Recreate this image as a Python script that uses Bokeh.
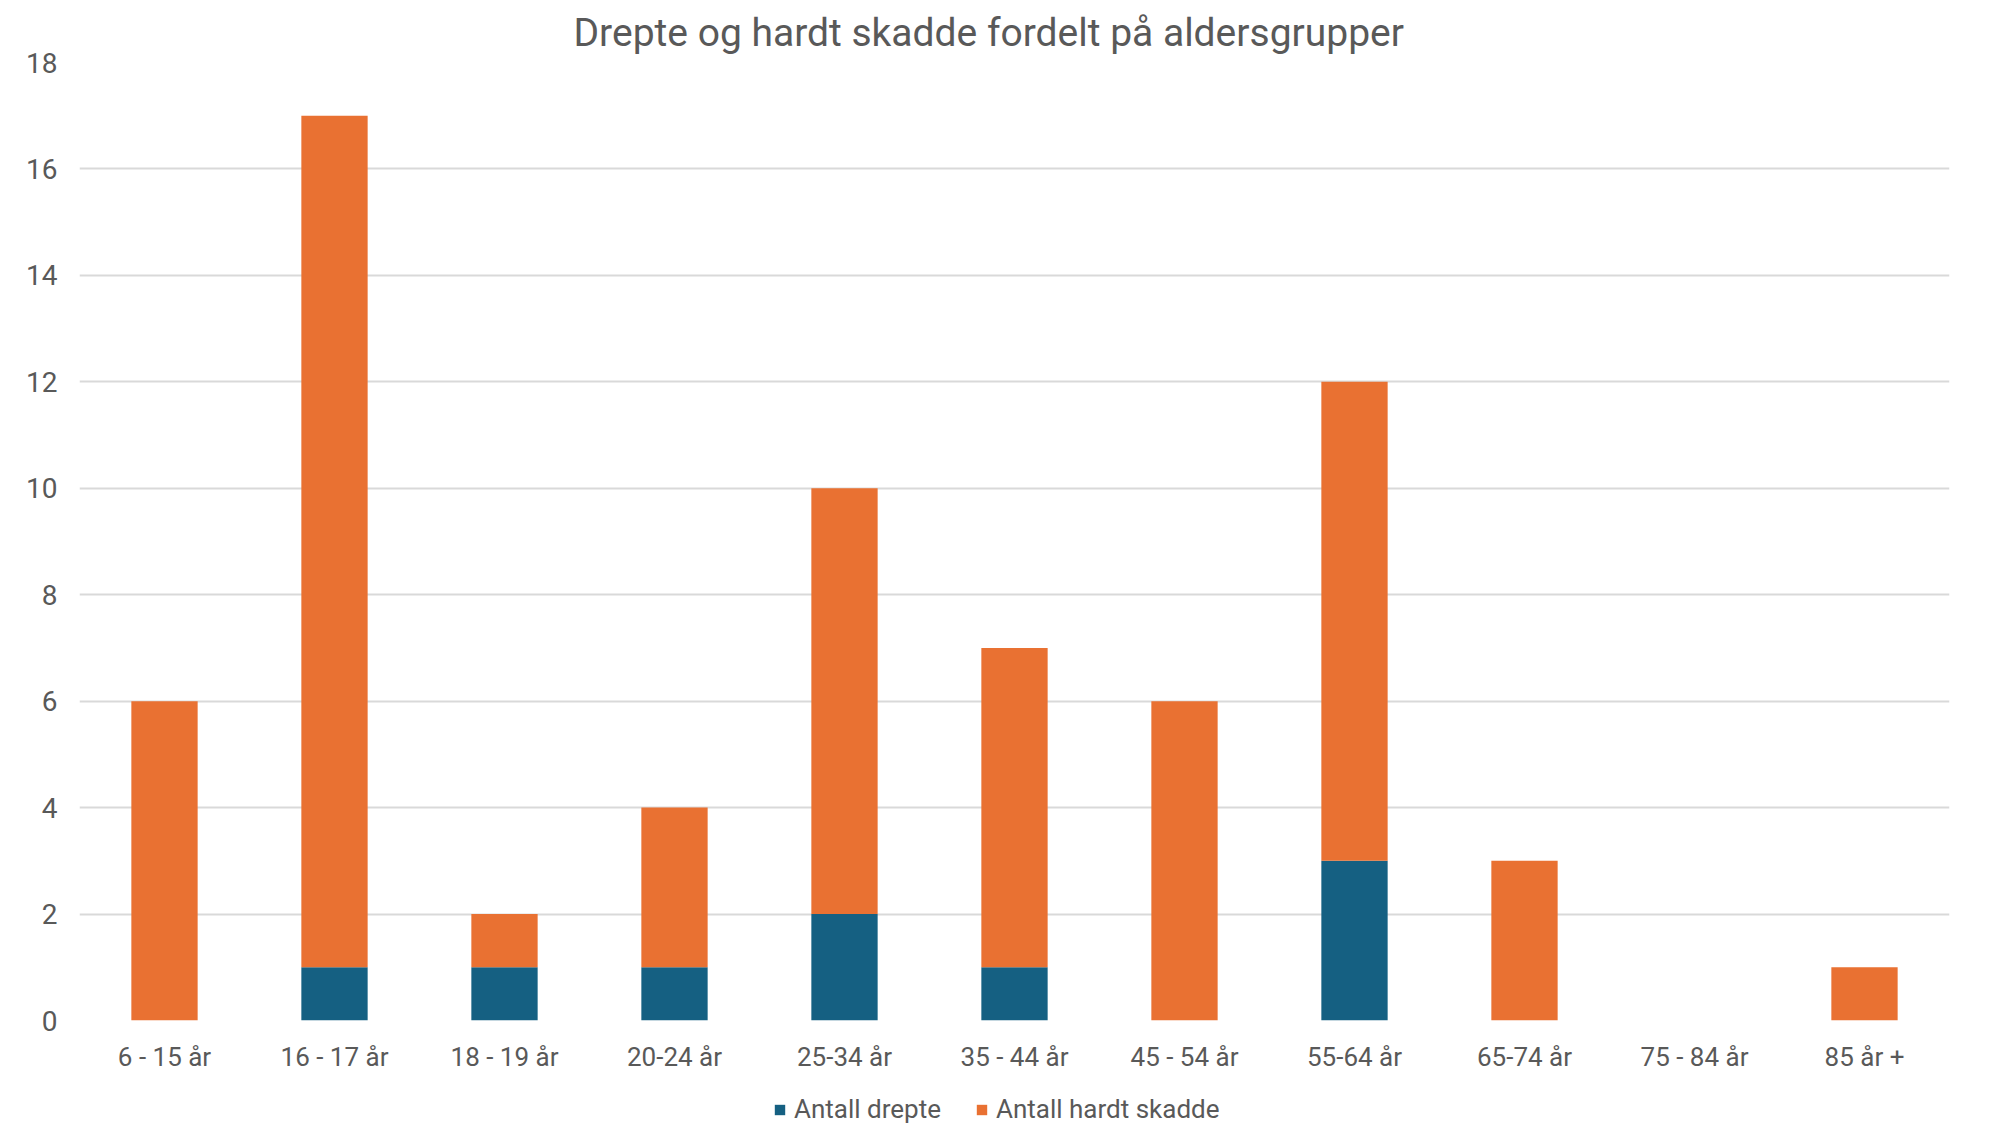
from bokeh.plotting import figure
from bokeh.models import Range1d, FactorRange, Legend, LegendItem, Title
from bokeh.layouts import column
from bokeh.embed import file_html
from bokeh.resources import INLINE

categories = ["6 - 15 år", "16 - 17 år", "18 - 19 år", "20-24 år", "25-34 år",
              "35 - 44 år", "45 - 54 år", "55-64 år", "65-74 år", "75 - 84 år", "85 år +"]
drepte = [0, 1, 1, 1, 2, 1, 0, 3, 0, 0, 0]
hardt_skadde = [6, 16, 1, 3, 8, 6, 6, 9, 3, 0, 1]
series_names = ["Antall drepte", "Antall hardt skadde"]
y_ticks = [0, 2, 4, 6, 8, 10, 12, 14, 16, 18]
title_text = "Drepte og hardt skadde fordelt på aldersgrupper"

FONT = "Roboto"
TXT = "#595959"
BLUE = "#156082"
ORANGE = "#E97132"
COLORS = [BLUE, ORANGE]

data = {"cat": categories, "drepte": drepte, "skadde": hardt_skadde}

# ---------------- main chart ----------------
p = figure(width=2000, height=1080, x_range=FactorRange(*categories, range_padding=0.0),
           y_range=Range1d(0, 18), output_backend="svg", toolbar_location=None,
           min_border_left=79, min_border_right=51, min_border_top=61, min_border_bottom=60)
p.outline_line_color = None
p.background_fill_color = "white"
p.border_fill_color = "white"

p.title = Title(text=title_text, align="left", text_font=FONT, text_font_size="39px",
                text_color=TXT, text_font_style="normal", standoff=14, offset=494)

renderers = p.vbar_stack(["drepte", "skadde"], x="cat", width=0.39, color=COLORS,
                         line_color=None, source=data)

p.xaxis.axis_line_color = None
p.xaxis.major_tick_line_color = None
p.xaxis.minor_tick_line_color = None
p.xaxis.major_tick_out = 0
p.xaxis.major_tick_in = 0
p.xaxis.major_label_text_font = FONT
p.xaxis.major_label_text_font_size = "26px"
p.xaxis.major_label_text_color = TXT
p.xaxis.major_label_standoff = 21

p.yaxis.ticker = y_ticks
p.yaxis.axis_line_color = None
p.yaxis.major_tick_line_color = None
p.yaxis.minor_tick_line_color = None
p.yaxis.major_tick_out = 0
p.yaxis.major_tick_in = 0
p.yaxis.major_label_text_font = FONT
p.yaxis.major_label_text_font_size = "28px"
p.yaxis.major_label_text_color = TXT
p.yaxis.major_label_standoff = 22

p.xgrid.grid_line_color = None
p.ygrid.grid_line_color = "#D9D9D9"
p.ygrid.grid_line_width = 2

# ---------------- legend strip ----------------
lg = figure(width=2000, height=45, x_range=FactorRange(*categories), y_range=Range1d(100, 101),
            output_backend="svg", toolbar_location=None,
            min_border_left=0, min_border_right=0, min_border_top=0, min_border_bottom=0)
lg.axis.visible = False
lg.grid.visible = False
lg.outline_line_color = None
lg.background_fill_color = "white"
lg.border_fill_color = "white"
lg_renderers = lg.vbar_stack(["drepte", "skadde"], x="cat", width=0.39, color=COLORS,
                             line_color=None, source=data)

legend = Legend(items=[LegendItem(label=series_names[0], renderers=[lg_renderers[0]]),
                       LegendItem(label=series_names[1], renderers=[lg_renderers[1]])],
                orientation="horizontal", location=(694, 1), padding=0, margin=0,
                spacing=34, label_standoff=8, glyph_width=13, glyph_height=13,
                label_text_font=FONT, label_text_font_size="26px", label_text_color=TXT,
                border_line_color=None, background_fill_alpha=0)
lg.add_layout(legend, "center")

layout = column(p, lg, spacing=0)
open("out.html", "w").write(file_html(layout, INLINE))
